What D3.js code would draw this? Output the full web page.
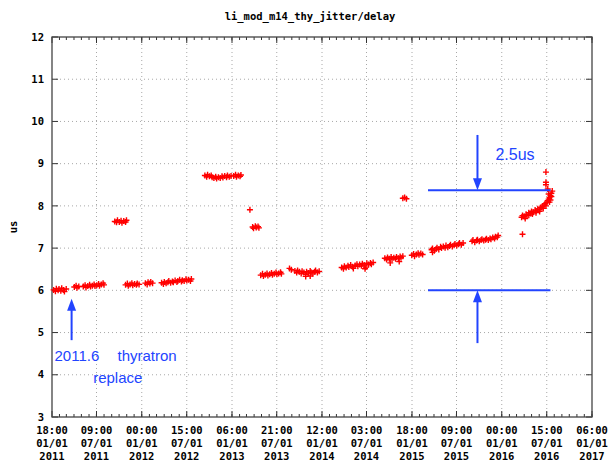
<!DOCTYPE html>
<html>
<head>
<meta charset="utf-8">
<script src="https://cdn.jsdelivr.net/npm/d3@7"></script>
<style>
  body { margin: 0; background: #fff; }
  svg { display: block; }
  .tick-label { font-family: "DejaVu Sans Mono", monospace; font-weight: bold; font-size: 10.5px; fill: #000; }
  .note { font-family: "Liberation Sans", Arial, sans-serif; fill: #2244ff; }
</style>
</head>
<body>
<svg id="chart" width="608" height="461"></svg>
<script>
// x tick positions (gnuplot time ticks) and y ticks
const xTicks = ["2011-01-01T18:00", "2011-07-01T09:00", "2012-01-01T00:00", "2012-07-01T15:00",
  "2013-01-01T06:00", "2013-07-01T21:00", "2014-01-01T12:00", "2014-07-01T03:00",
  "2015-01-01T18:00", "2015-07-01T09:00", "2016-01-01T00:00", "2016-07-01T15:00", "2017-01-01T06:00"];
const yTicks = [3, 4, 5, 6, 7, 8, 9, 10, 11, 12];

// delay readings, [decimal year, us]
const run2011a = [[2011.02,6.01],[2011.04,5.98],[2011.05,6.04],[2011.07,6.00],[2011.08,6.03],[2011.10,5.99],
  [2011.11,6.05],[2011.13,6.01],[2011.14,5.97],[2011.16,6.03]];
const run2011b = [[2011.25,6.08],[2011.27,6.11],[2011.28,6.06],[2011.30,6.09],[2011.35,6.09],[2011.37,6.12],
  [2011.38,6.07],[2011.40,6.10],[2011.42,6.13],[2011.43,6.09],[2011.45,6.11],[2011.47,6.14],[2011.48,6.10],
  [2011.50,6.12],[2011.52,6.15],[2011.53,6.11],[2011.55,6.14],[2011.57,6.17],[2011.58,6.13]];
const run2011c = [[2011.70,7.63],[2011.72,7.61],[2011.73,7.66],[2011.75,7.62],[2011.77,7.65],[2011.78,7.60],
  [2011.80,7.64],[2011.82,7.62],[2011.83,7.66]];
const run2011d = [[2011.82,6.13],[2011.84,6.16],[2011.85,6.11],[2011.87,6.14],[2011.89,6.17],[2011.90,6.12],
  [2011.92,6.15],[2011.94,6.13],[2011.95,6.16],[2011.97,6.14]];
const run2012a = [[2012.04,6.17],[2012.06,6.14],[2012.07,6.19],[2012.09,6.16],[2012.10,6.20],[2012.12,6.17]];
const run2012b = [[2012.22,6.18],[2012.24,6.15],[2012.25,6.20],[2012.27,6.17],[2012.29,6.19],[2012.30,6.22],
  [2012.32,6.18],[2012.34,6.21],[2012.35,6.19],[2012.37,6.23],[2012.39,6.20],[2012.40,6.22],[2012.42,6.25],
  [2012.44,6.21],[2012.45,6.24],[2012.47,6.22],[2012.49,6.26],[2012.50,6.23],[2012.52,6.25],[2012.54,6.22],[2012.55,6.27]];
const run2012c = [[2012.70,8.72],[2012.72,8.69],[2012.73,8.74],[2012.75,8.70],[2012.77,8.72],[2012.78,8.68],
  [2012.80,8.66],[2012.82,8.69],[2012.83,8.65],[2012.85,8.68],[2012.87,8.66],[2012.89,8.70],[2012.90,8.67],
  [2012.92,8.71],[2012.94,8.68],[2012.95,8.72],[2012.97,8.69],[2012.99,8.71],
  [2013.02,8.71],[2013.04,8.74],[2013.05,8.69],[2013.07,8.72],[2013.09,8.70],[2013.10,8.73]];
const run2013a = [[2013.20,7.91],[2013.23,7.50],[2013.24,7.47],[2013.26,7.52],[2013.27,7.49],[2013.29,7.51],[2013.30,7.48]];
const run2013b = [[2013.32,6.36],[2013.34,6.39],[2013.35,6.34],[2013.37,6.37],[2013.39,6.40],[2013.40,6.35],
  [2013.42,6.38],[2013.44,6.41],[2013.45,6.37],[2013.47,6.39],[2013.49,6.42],[2013.50,6.38],[2013.52,6.40],
  [2013.54,6.43],[2013.55,6.39]];
const run2013c = [[2013.64,6.52],[2013.66,6.49],[2013.70,6.46],[2013.72,6.42],[2013.73,6.47],[2013.75,6.44],
  [2013.77,6.40],[2013.78,6.45],[2013.80,6.42],[2013.82,6.38],[2013.83,6.44],[2013.85,6.41],[2013.87,6.46],
  [2013.88,6.43],[2013.90,6.39],[2013.92,6.44],[2013.93,6.47],[2013.95,6.42],[2013.97,6.45],[2013.87,6.34],[2013.82,6.33]];
const run2014a = [[2014.22,6.54],[2014.24,6.51],[2014.25,6.57],[2014.27,6.54],[2014.29,6.58],[2014.30,6.55],
  [2014.32,6.60],[2014.34,6.56],[2014.35,6.52],[2014.37,6.59],[2014.39,6.62],[2014.40,6.57],[2014.42,6.61],
  [2014.44,6.58],[2014.45,6.63],[2014.47,6.60],[2014.49,6.55],[2014.50,6.64],[2014.52,6.61],[2014.54,6.65],
  [2014.55,6.62],[2014.57,6.66],[2014.48,6.51]];
const run2014b = [[2014.70,6.76],[2014.72,6.73],[2014.73,6.78],[2014.75,6.75],[2014.77,6.79],[2014.78,6.74],
  [2014.80,6.77],[2014.82,6.75],[2014.83,6.79],[2014.85,6.76],[2014.87,6.80],[2014.88,6.77],[2014.90,6.81],
  [2014.76,6.65],[2014.86,6.68],[2014.90,8.18],[2014.92,8.20],[2014.94,8.17]];
const run2015a = [[2015.00,6.83],[2015.02,6.86],[2015.03,6.81],[2015.05,6.85],[2015.07,6.88],[2015.08,6.84],
  [2015.10,6.87],[2015.12,6.85]];
const run2015b = [[2015.22,6.96],[2015.23,6.99],[2015.25,6.94],[2015.27,6.98],[2015.28,7.01],[2015.30,6.97],
  [2015.32,7.03],[2015.33,7.00],[2015.35,7.04],[2015.37,7.01],[2015.38,7.06],[2015.40,7.02],[2015.42,7.05],
  [2015.43,7.08],[2015.45,7.04],[2015.47,7.07],[2015.48,7.10],[2015.50,7.06],[2015.52,7.09],[2015.53,7.12],
  [2015.55,7.08],[2015.57,7.12],[2015.23,6.90]];
const run2015c = [[2015.67,7.16],[2015.68,7.19],[2015.70,7.14],[2015.72,7.18],[2015.73,7.20],[2015.75,7.16],
  [2015.77,7.19],[2015.78,7.21],[2015.80,7.18],[2015.82,7.20],[2015.83,7.22],[2015.85,7.19],[2015.87,7.23],
  [2015.88,7.21],[2015.90,7.25],[2015.92,7.23],[2015.93,7.27],[2015.95,7.26],[2015.96,7.30]];
const run2016 = [[2016.23,7.33],[2016.22,7.73],[2016.23,7.77],[2016.25,7.75],[2016.27,7.80],[2016.28,7.78],
  [2016.30,7.84],[2016.32,7.82],[2016.33,7.87],[2016.35,7.85],[2016.37,7.90],[2016.38,7.88],[2016.40,7.93],
  [2016.42,7.91],[2016.43,7.96],[2016.45,7.99],[2016.47,8.02],[2016.48,8.05],[2016.50,8.08],[2016.51,8.12],
  [2016.52,8.16],[2016.53,8.20],[2016.54,8.25],[2016.55,8.30],[2016.56,8.35],[2016.55,8.22],[2016.54,8.14],
  [2016.53,8.09],[2016.52,8.28],[2016.26,7.70],[2016.30,7.78],[2016.34,7.81],[2016.38,7.84],[2016.42,7.87],
  [2016.46,7.94],[2016.49,8.00],[2016.51,8.40],[2016.49,8.50],[2016.49,8.56],[2016.49,8.80]];

const runs = [run2011a, run2011b, run2011c, run2011d, run2012a, run2012b, run2012c, run2013a,
  run2013b, run2013c, run2014a, run2014b, run2015a, run2015b, run2015c, run2016];

// annotation, in data units
const refLines = [8.37, 6.0];
const refSpan = [2015.18, 2016.54];

const svg = d3.select("#chart");
const margin = { left: 52, top: 37, right: 16, bottom: 44 };
const W = 608, H = 461;
const parse = d3.utcParse("%Y-%m-%dT%H:%M");
const tickDates = xTicks.map(parse);

function yearToDate(t) {
  const y = Math.floor(t);
  const s = Date.UTC(y, 0, 1), e = Date.UTC(y + 1, 0, 1);
  return new Date(s + (t - y) * (e - s));
}

const x = d3.scaleUtc()
  .domain([tickDates[0], tickDates[tickDates.length - 1]])
  .range([margin.left, W - margin.right]);
const y = d3.scaleLinear().domain([3, 12]).range([H - margin.bottom, margin.top]);

const x0 = x.range()[0], x1 = x.range()[1], yb = y.range()[0], yt = y.range()[1];

// grid
const grid = svg.append("g").attr("stroke", "#a8a8a8").attr("stroke-dasharray", "1,3");
grid.selectAll(".gx").data(tickDates.slice(1, -1)).enter().append("line")
  .attr("x1", d => x(d)).attr("x2", d => x(d)).attr("y1", yb).attr("y2", yt);
grid.selectAll(".gy").data(yTicks.slice(1, -1)).enter().append("line")
  .attr("x1", x0).attr("x2", x1).attr("y1", d => y(d)).attr("y2", d => y(d));

// ticks
const tk = svg.append("g").attr("stroke", "#333").attr("stroke-width", 1);
const months = d3.utcMonth.range(x.domain()[0], x.domain()[1]);
[yb, yt].forEach((yy, i) => {
  const dir = i === 0 ? -1 : 1;
  tk.selectAll(null).data(months).enter().append("line")
    .attr("x1", d => x(d)).attr("x2", d => x(d)).attr("y1", yy).attr("y2", yy + dir * 3);
  tk.selectAll(null).data(tickDates).enter().append("line")
    .attr("x1", d => x(d)).attr("x2", d => x(d)).attr("y1", yy).attr("y2", yy + dir * 6);
});
[x0, x1].forEach((xx, i) => {
  const dir = i === 0 ? 1 : -1;
  tk.selectAll(null).data(yTicks).enter().append("line")
    .attr("x1", xx).attr("x2", xx + dir * 6).attr("y1", d => y(d)).attr("y2", d => y(d));
});

// border
svg.append("rect").attr("x", x0).attr("y", yt).attr("width", x1 - x0).attr("height", yb - yt)
  .attr("fill", "none").attr("stroke", "#444").attr("stroke-width", 1.3);

// tick labels
svg.selectAll(".yl").data(yTicks).enter().append("text")
  .attr("class", "tick-label").attr("x", x0 - 8).attr("y", d => y(d)).attr("dy", "0.35em")
  .attr("text-anchor", "end").text(d => d);

const fmts = [d3.utcFormat("%H:%M"), d3.utcFormat("%m/%d"), d3.utcFormat("%Y")];
const xl = svg.selectAll(".xl").data(tickDates).enter().append("text")
  .attr("class", "tick-label").attr("text-anchor", "middle");
fmts.forEach((f, i) => {
  xl.append("tspan").attr("x", d => x(d)).attr("y", yb + 17 + i * 13.2).text(d => f(d));
});

// title and y label
svg.append("text").attr("class", "tick-label").attr("x", 310).attr("y", 20)
  .attr("text-anchor", "middle").text("li_mod_m14_thy_jitter/delay");
svg.append("text").attr("class", "tick-label")
  .attr("transform", `translate(17, ${(yt + yb) / 2}) rotate(-90)`)
  .attr("text-anchor", "middle").text("us");

// points
const pts = runs.flat();
svg.append("g").attr("stroke", "#ff0000").attr("stroke-width", 1.4).attr("fill", "none")
  .selectAll("path").data(pts).enter().append("path")
  .attr("d", d => `M${x(yearToDate(d[0])) - 3},${y(d[1])}h6M${x(yearToDate(d[0]))},${y(d[1]) - 3}v6`);

// annotations
const blue = "#2244ff";
const ann = svg.append("g");
function arrow(t, vFrom, vTo) {
  const ax = x(yearToDate(t)), ya = y(vFrom), yz = y(vTo);
  const dir = yz > ya ? 1 : -1;
  ann.append("line").attr("x1", ax).attr("x2", ax).attr("y1", ya).attr("y2", yz - dir * 8)
    .attr("stroke", blue).attr("stroke-width", 2);
  ann.append("path")
    .attr("d", `M${ax},${yz}L${ax - 4.5},${yz - dir * 12}L${ax + 4.5},${yz - dir * 12}Z`)
    .attr("fill", blue);
}
refLines.forEach(v => {
  ann.append("line").attr("x1", x(yearToDate(refSpan[0]))).attr("x2", x(yearToDate(refSpan[1])))
    .attr("y1", y(v)).attr("y2", y(v)).attr("stroke", blue).attr("stroke-width", 2);
});
arrow(2015.73, 9.68, 8.37);
arrow(2015.73, 4.75, 6.0);
arrow(2011.22, 4.82, 5.8);

const notes = [
  { t: 2011.03, v: 4.33, text: "2011.6", size: 15 },
  { t: 2011.73, v: 4.33, text: "thyratron", size: 15 },
  { t: 2011.46, v: 3.81, text: "replace", size: 15 },
  { t: 2015.93, v: 9.09, text: "2.5us", size: 16 }
];
ann.selectAll("text").data(notes).enter().append("text")
  .attr("class", "note").attr("x", d => x(yearToDate(d.t))).attr("y", d => y(d.v))
  .style("font-size", d => d.size + "px").text(d => d.text);
</script>
</body>
</html>
